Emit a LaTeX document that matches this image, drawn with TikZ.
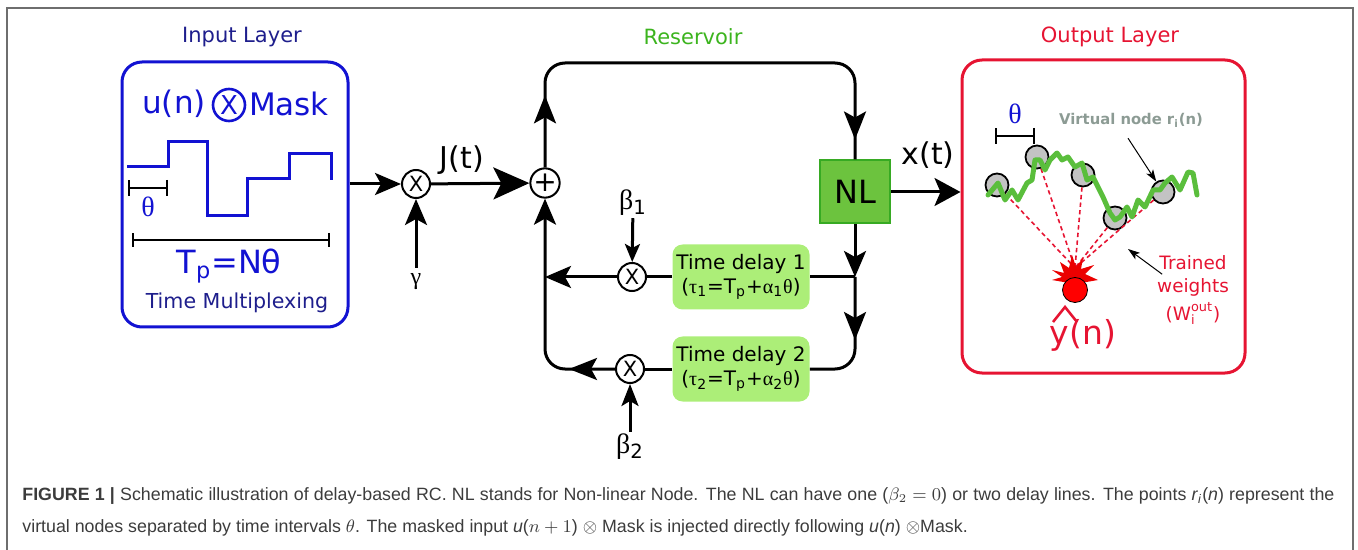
\documentclass[tikz,border=0pt]{standalone}
\usepackage{amsmath}
\usepackage{fontspec}
\setmainfont{DejaVu Sans}
\newfontfamily\grk{Liberation Serif}
\newfontfamily\capfont{Liberation Sans}
\usepackage{xcolor}
\usetikzlibrary{arrows.meta,positioning,fit,decorations.markings}
\definecolor{inblue}{RGB}{18,18,210}
\definecolor{navy}{RGB}{30,30,140}
\definecolor{resgreen}{RGB}{60,180,30}
\definecolor{nlfill}{RGB}{108,195,62}
\definecolor{nldraw}{RGB}{55,170,35}
\definecolor{tdfill}{RGB}{172,238,120}
\definecolor{outred}{RGB}{230,20,50}
\definecolor{wigglegreen}{RGB}{90,190,60}
\definecolor{vgrey}{RGB}{140,155,148}
\definecolor{nodegrey}{RGB}{195,195,195}
\definecolor{capgrey}{RGB}{60,60,60}
\definecolor{framegrey}{RGB}{110,110,110}

\begin{document}
\begin{tikzpicture}[
x=0.5pt,y=-0.5pt,
wire/.style={line width=1.5pt},
arr/.style={-{Stealth[length=13pt,width=11pt,inset=3pt]}},
jarr/.style={-{Stealth[length=18pt,width=16pt,inset=4pt]}},
xarr/.style={-{Stealth[length=13pt,width=14pt,inset=3pt]}},
marr/.style={-{Stealth[length=11pt,width=8.5pt,inset=2.5pt]}},
sarr/.style={-{Stealth[length=9pt,width=7.5pt,inset=2pt]}},
ptr/.style={-{Stealth[length=6pt,width=4pt,inset=1.5pt]},line width=0.5pt},
arrat/.style={postaction={decorate,decoration={markings,mark=at position #1 with {\arrow{Stealth[length=14pt,width=11pt,inset=3pt]}}}}},
head/.style={font=\fontsize{10.5}{12}\selectfont},
bigtxt/.style={font=\fontsize{15.5}{17}\selectfont},
sig/.style={font=\fontsize{15}{16}\selectfont},
greek/.style={font=\grk\fontsize{14}{14}\selectfont,inner sep=1pt},
layerbox/.style={rounded corners=10pt,line width=1.5pt,inner sep=0pt},
mult/.style={circle,draw,line width=1pt,minimum size=14pt,inner sep=0pt,fill=white,font=\fontsize{10.5}{10}\selectfont},
nlbox/.style={draw=nldraw,fill=nlfill,line width=1pt,minimum width=35pt,minimum height=31.5pt,font=\fontsize{16}{16}\selectfont},
tdbox/.style={fill=tdfill,rounded corners=5pt,minimum width=68.5pt,minimum height=32.5pt,align=center,inner sep=1pt,font=\fontsize{10}{12}\selectfont},
vnode/.style={circle,draw,fill=nodegrey,line width=0.9pt,minimum size=11.5pt,inner sep=0pt},
wline/.style={outred,line width=0.8pt,dash pattern=on 2.2pt off 1.6pt},
capnode/.style={font=\capfont\fontsize{8.9}{10}\selectfont,text=capgrey,inner sep=0pt},
]
\useasboundingbox (0,0) rectangle (1358,550);
\draw[framegrey,line width=0.8pt] (7,560) -- (7,8) -- (1353,8) -- (1353,560);

\node[head,text=navy] (inhead) at (242,37) {Input Layer};
\node[head,text=resgreen] (reshead) at (693,37) {Reservoir};
\node[head,text=outred] (outhead) at (1110,37) {Output Layer};

\node[layerbox,draw=inblue,fit={(122,62) (348,327)}] (inbox) {};
\node[bigtxt,text=inblue] (un) at (174,104) {u(n)};
\node[mult,draw=inblue,text=inblue,line width=1.3pt,minimum size=16pt,font=\fontsize{13}{13}\selectfont] (mo) at (229,105) {X};
\node[bigtxt,text=inblue] (mask) at (289,104) {Mask};
\draw[inblue,line width=1.5pt] (127,167) -- (168,167) -- (168,142) -- (207,142) -- (207,216) -- (247,216) -- (247,179) -- (289,179) -- (289,154) -- (331,154) -- (331,180);
\draw[line width=0.8pt,{Bar[width=8pt]}-{Bar[width=8pt]}] (128,188) -- (168,188);
\node[greek,text=inblue] (th1) at (148,207) {θ};
\draw[line width=0.8pt,{Bar[width=7pt]}-{Bar[width=7pt]}] (132,240) -- (330,240);
\node[sig,font=\fontsize{16}{17}\selectfont,text=inblue] (tp) at (229,266) {T\textsubscript{p}=Nθ};
\node[text=navy,font=\fontsize{10.3}{12}\selectfont] (tm) at (237,303) {Time Multiplexing};

\node[mult] (m1) at (416,184) {X};
\node[greek,font=\grk\fontsize{12}{12}\selectfont] (gamma) at (416,282) {γ};
\node[mult,font=\fontsize{14}{14}\selectfont] (plus) at (545,183) {+};
\node[sig] (jt) at (462,160) {J(t)};
\node[nlbox] (nl) at (855,192) {NL};
\node[tdbox] (td1) at (741,277) {Time delay 1\\({\grk τ}\textsubscript{1}=T\textsubscript{p}+{\grk α}\textsubscript{1}{\grk θ})};
\node[tdbox] (td2) at (741,369) {Time delay 2\\({\grk τ}\textsubscript{2}=T\textsubscript{p}+{\grk α}\textsubscript{2}{\grk θ})};
\node[mult] (b1) at (632,277) {X};
\node[mult] (b2) at (630,369) {X};
\node[greek] (beta1) at (633,203) {β\textsubscript{\rmfamily 1}};
\node[greek] (beta2) at (630,447) {β\textsubscript{\rmfamily 2}};
\coordinate (j1) at (855,277);
\coordinate (j2) at (545,277);
\node[layerbox,draw=outred,fit={(962,60) (1245,373)}] (outbox) {};
\node[sig] (xt) at (928,155) {x(t)};

\draw[wire,arr] (m1 -| inbox.east) -- (m1);
\draw[wire,arr] ([yshift=2pt]gamma.north) -- (m1);
\draw[wire,jarr] (m1) -- (plus);
\draw[wire,rounded corners=10pt,arrat=36pt,arrat=-10pt] (plus) -- (545,63) -- (855,63) -- (nl);
\draw[wire,arr] (nl) -- (j1);
\draw[wire] (j1) -- (td1);
\draw[wire,rounded corners=10pt,arrat=31.5pt] (j1) -- (j1 |- td2) -- (td2);
\draw[wire] (td1) -- (b1);
\draw[wire,arr] (b1) -- (j2);
\draw[wire] (td2) -- (b2);
\draw[wire,rounded corners=10pt,arr,arrat=23pt] (b2) -- (j2 |- b2) -- (plus);
\draw[wire,sarr] (beta1) -- (b1);
\draw[wire,marr] (beta2) -- (b2);
\draw[wire,xarr] (nl) -- (nl -| outbox.west);

\draw[line width=1pt,{Bar[width=8pt]}-{Bar[width=8pt]}] (995,136) -- (1035,136);
\node[greek,text=inblue] (th2) at (1015,114) {θ};
\node[text=vgrey,font=\fontsize{7.4}{9}\selectfont\bfseries] (vlabel) at (1131,120) {Virtual node r\textsubscript{i}(n)};
\foreach \n/\x/\y in {1/997/185,2/1037/157,3/1083/175,4/1115/218,5/1163/192}
  \node[vnode] (v\n) at (\x,\y) {};
\coordinate (hub) at (1075,268);
\foreach \n in {1,...,5}
  \draw[wline] (v\n) -- (hub);
\draw[wigglegreen,line width=2.5pt,line join=round,line cap=round] (988,195) -- (998,183) -- (1005,200) -- (1012,190) -- (1018,200) -- (1027,183) -- (1032,180) -- (1035,160) -- (1040,160) -- (1045,170) -- (1050,160) -- (1057,153) -- (1062,160) -- (1068,157) -- (1075,167) -- (1082,163) -- (1087,180) -- (1093,177) -- (1103,197) -- (1110,213) -- (1115,220) -- (1120,217) -- (1127,207) -- (1132,217) -- (1138,200) -- (1145,207) -- (1153,190) -- (1160,190) -- (1165,183) -- (1172,177) -- (1180,190) -- (1188,172) -- (1193,173) -- (1197,195);
\fill[red!92!black] (1052,270) -- (1064,273) -- (1060,262) -- (1069,268) -- (1072,255) -- (1076,267) -- (1083,258) -- (1081,269) -- (1094,265) -- (1085,274) -- (1098,280) -- (1075,284) -- (1052,280) -- (1062,277) -- cycle;
\node[circle,fill=red,draw=black,line width=0.4pt,minimum size=12.5pt,inner sep=0pt] (yout) at (1075,290) {};
\node[sig,font=\fontsize{16.5}{17}\selectfont,text=outred] (yn) at (1083,335) {y(n)};
\draw[outred,line width=1.3pt] (1053,322) -- (1065,307) -- (1077,322);
\node[text=outred,align=center,font=\fontsize{9.2}{11.5}\selectfont] (tw) at (1193,290) {Trained\\weights\\[2.5pt]($\text{W}_{\text{i}}^{\text{out}}$)};
\coordinate (wtip) at (1128,249);
\draw[ptr] ([xshift=-1.5pt,yshift=-2pt]vlabel.south) -- (v5);
\draw[ptr] ([shift={(6pt,-13pt)}]tw.north west) -- (wtip);

\node[capnode,anchor=west] (cap1) at (22,496) {\makebox[656pt][s]{\textbf{FIGURE 1 |} Schematic illustration of delay-based RC. NL stands for Non-linear Node. The NL can have one (${\beta_2=0}$) or two delay lines. The points \textit{r}\textsubscript{\textit{i}}(\textit{n}) represent the}};
\node[capnode,anchor=west] (cap2) at (22,528) {virtual nodes separated by time intervals $\theta$. The masked input \textit{u}(${n+1}$) $\otimes$ Mask is injected directly following \textit{u}(\textit{n}) $\otimes$Mask.};
\end{tikzpicture}
\end{document}
